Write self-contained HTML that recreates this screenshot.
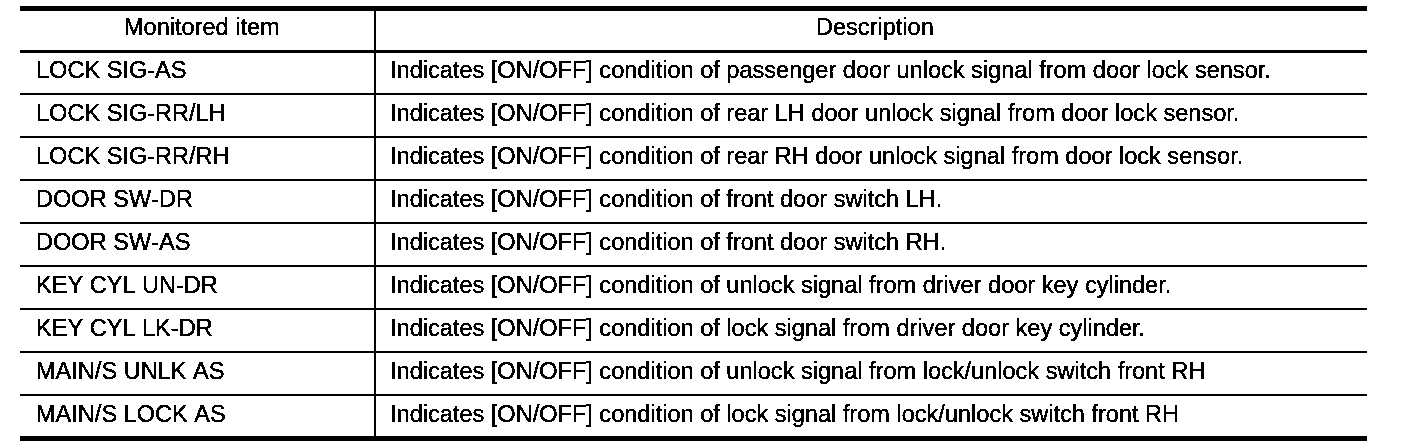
<!DOCTYPE html>
<html><head><meta charset="utf-8"><title>Table</title>
<style>
html,body{margin:0;padding:0;background:#fff;}
body{width:1408px;height:448px;position:relative;overflow:hidden;font-family:"Liberation Sans",sans-serif;color:#000;}
.l{position:absolute;background:#000;}
.t{position:absolute;white-space:nowrap;font-size:23.55px;line-height:26px;height:26px;-webkit-text-stroke:0.12px #000;}
.k{font-kerning:none;}
#w{position:absolute;left:0;top:0;width:1408px;height:448px;background:#fff;filter:url(#th);}
</style></head><body>
<svg width="0" height="0" style="position:absolute"><defs><filter id="th" x="0" y="0" width="100%" height="100%" color-interpolation-filters="sRGB"><feComponentTransfer><feFuncR type="discrete" tableValues="0 0 0 0 0 0 0 1 1 1"/><feFuncG type="discrete" tableValues="0 0 0 0 0 0 0 1 1 1"/><feFuncB type="discrete" tableValues="0 0 0 0 0 0 0 1 1 1"/></feComponentTransfer></filter></defs></svg>
<div id="w">

<div class="l" style="left:20px;top:6px;width:1347px;height:5px"></div>
<div class="l" style="left:20px;top:50px;width:1347px;height:3px"></div>
<div class="l" style="left:20px;top:93px;width:1347px;height:2px"></div>
<div class="l" style="left:20px;top:136px;width:1347px;height:2px"></div>
<div class="l" style="left:20px;top:179px;width:1347px;height:2px"></div>
<div class="l" style="left:20px;top:222px;width:1347px;height:2px"></div>
<div class="l" style="left:20px;top:265px;width:1347px;height:2px"></div>
<div class="l" style="left:20px;top:308px;width:1347px;height:2px"></div>
<div class="l" style="left:20px;top:351px;width:1347px;height:2px"></div>
<div class="l" style="left:20px;top:394px;width:1347px;height:2px"></div>
<div class="l" style="left:20px;top:436px;width:1347px;height:5px"></div>
<div class="l" style="left:374px;top:8px;width:2px;height:430px"></div>
<div class="t" style="left:124px;top:14px">Monitored item</div>
<div class="t" style="left:816px;top:14px">Description</div>
<div class="t k" style="left:36px;top:57px">LOCK SIG-AS</div>
<div class="t" style="left:390px;top:57px">Indicates [ON/OFF] condition of passenger door unlock signal from door lock sensor.</div>
<div class="t k" style="left:36px;top:100px">LOCK SIG-RR/LH</div>
<div class="t" style="left:390px;top:100px">Indicates [ON/OFF] condition of rear LH door unlock signal from door lock sensor.</div>
<div class="t k" style="left:36px;top:143px">LOCK SIG-RR/RH</div>
<div class="t" style="left:390px;top:143px">Indicates [ON/OFF] condition of rear RH door unlock signal from door lock sensor.</div>
<div class="t k" style="left:36px;top:186px">DOOR SW-DR</div>
<div class="t" style="left:390px;top:186px">Indicates [ON/OFF] condition of front door switch LH.</div>
<div class="t k" style="left:36px;top:229px">DOOR SW-AS</div>
<div class="t" style="left:390px;top:229px">Indicates [ON/OFF] condition of front door switch RH.</div>
<div class="t k" style="left:36px;top:272px">KEY CYL UN-DR</div>
<div class="t" style="left:390px;top:272px">Indicates [ON/OFF] condition of unlock signal from driver door key cylinder.</div>
<div class="t k" style="left:36px;top:315px">KEY CYL LK-DR</div>
<div class="t" style="left:390px;top:315px">Indicates [ON/OFF] condition of lock signal from driver door key cylinder.</div>
<div class="t k" style="left:36px;top:358px">MAIN/S UNLK AS</div>
<div class="t" style="left:390px;top:358px">Indicates [ON/OFF] condition of unlock signal from lock/unlock switch front RH</div>
<div class="t k" style="left:36px;top:401px">MAIN/S LOCK AS</div>
<div class="t" style="left:390px;top:401px">Indicates [ON/OFF] condition of lock signal from lock/unlock switch front RH</div>
</div></body></html>
